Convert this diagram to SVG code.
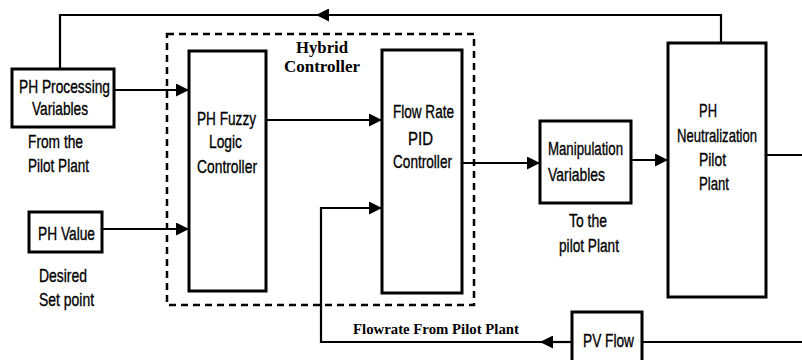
<svg xmlns="http://www.w3.org/2000/svg" width="802" height="360" viewBox="0 0 802 360">
<defs>
<style>
.box{fill:#fff;stroke:#000;stroke-width:3}
.ln{fill:none;stroke:#000;stroke-width:2.2}
.dash{fill:none;stroke:#000;stroke-width:2.5;stroke-dasharray:7 5}
.t{font-family:"Liberation Sans",Arial,sans-serif;font-size:19px;fill:#000;stroke:#000;stroke-width:0.35}
.b{font-family:"Liberation Serif","Times New Roman",serif;font-weight:bold;fill:#000}
</style>
<marker id="ah" markerUnits="userSpaceOnUse" markerWidth="13" markerHeight="13" viewBox="0 0 13 13" refX="13" refY="6.5" orient="auto">
<path d="M0,0 L13,6.5 L0,13 Z" fill="#000"/>
</marker>
</defs>
<rect width="802" height="360" fill="#fff"/>

<g id="connectors">
<path class="ln" d="M721,43 V15 H60 V69"/>
<path class="ln" d="M721,15 H316" marker-end="url(#ah)"/>
<path class="ln" d="M114,90 H189" marker-end="url(#ah)"/>
<path class="ln" d="M102,229 H189" marker-end="url(#ah)"/>
<path class="ln" d="M266,120 H382" marker-end="url(#ah)"/>
<path class="ln" d="M462,163 H540" marker-end="url(#ah)"/>
<path class="ln" d="M631,160 H668" marker-end="url(#ah)"/>
<path class="ln" d="M766,155 H802"/>
<path class="ln" d="M802,342 H642"/>
<path class="ln" d="M572,342 H540" marker-end="url(#ah)"/>
<path class="ln" d="M542,342 H321 V208 H382" marker-end="url(#ah)"/>
</g>

<g id="hybrid">
<rect class="dash" x="167" y="34" width="307" height="271"/>
<text class="b" font-size="16" x="322" y="53" text-anchor="middle" textLength="52" lengthAdjust="spacingAndGlyphs">Hybrid</text>
<text class="b" font-size="16" x="322" y="72" text-anchor="middle" textLength="76" lengthAdjust="spacingAndGlyphs">Controller</text>
</g>

<g id="ph-processing">
<rect class="box" x="12" y="69" width="102" height="58"/>
<text class="t" x="64.5" y="93" text-anchor="middle" textLength="91" lengthAdjust="spacingAndGlyphs">PH Processing</text>
<text class="t" x="60" y="115" text-anchor="middle" textLength="56" lengthAdjust="spacingAndGlyphs">Variables</text>
<text class="t" x="28" y="148" textLength="55" lengthAdjust="spacingAndGlyphs">From the</text>
<text class="t" x="28" y="172" textLength="61" lengthAdjust="spacingAndGlyphs">Pilot Plant</text>
</g>

<g id="ph-value">
<rect class="box" x="29" y="212" width="73" height="40"/>
<text class="t" x="66.5" y="240" text-anchor="middle" textLength="57" lengthAdjust="spacingAndGlyphs">PH Value</text>
<text class="t" x="39" y="282" textLength="48" lengthAdjust="spacingAndGlyphs">Desired</text>
<text class="t" x="39" y="306" textLength="55" lengthAdjust="spacingAndGlyphs">Set point</text>
</g>

<g id="fuzzy">
<rect class="box" x="189" y="51" width="77" height="240"/>
<text class="t" x="226.5" y="125" text-anchor="middle" textLength="59" lengthAdjust="spacingAndGlyphs">PH Fuzzy</text>
<text class="t" x="225.5" y="148" text-anchor="middle" textLength="33" lengthAdjust="spacingAndGlyphs">Logic</text>
<text class="t" x="227" y="173" text-anchor="middle" textLength="60" lengthAdjust="spacingAndGlyphs">Controller</text>
</g>

<g id="pid">
<rect class="box" x="382" y="50" width="80" height="243"/>
<text class="t" x="423.5" y="118" text-anchor="middle" textLength="61" lengthAdjust="spacingAndGlyphs">Flow Rate</text>
<text class="t" x="420.5" y="145" text-anchor="middle" textLength="25" lengthAdjust="spacingAndGlyphs">PID</text>
<text class="t" x="422.5" y="168" text-anchor="middle" textLength="59" lengthAdjust="spacingAndGlyphs">Controller</text>
</g>

<g id="manipulation">
<rect class="box" x="540" y="121" width="91" height="82"/>
<text class="t" x="548" y="155" textLength="75" lengthAdjust="spacingAndGlyphs">Manipulation</text>
<text class="t" x="548" y="181" textLength="57" lengthAdjust="spacingAndGlyphs">Variables</text>
<text class="t" x="588" y="227" text-anchor="middle" textLength="38" lengthAdjust="spacingAndGlyphs">To the</text>
<text class="t" x="589" y="252" text-anchor="middle" textLength="60" lengthAdjust="spacingAndGlyphs">pilot Plant</text>
</g>

<g id="neutralization">
<rect class="box" x="668" y="43" width="98" height="254"/>
<text class="t" x="699" y="117" textLength="18" lengthAdjust="spacingAndGlyphs">PH</text>
<text class="t" x="677" y="142" textLength="80" lengthAdjust="spacingAndGlyphs">Neutralization</text>
<text class="t" x="699" y="166" textLength="27" lengthAdjust="spacingAndGlyphs">Pilot</text>
<text class="t" x="699" y="190" textLength="30" lengthAdjust="spacingAndGlyphs">Plant</text>
</g>

<g id="pv-flow">
<rect class="box" x="572" y="312" width="70" height="60"/>
<text class="t" x="583" y="347" textLength="51" lengthAdjust="spacingAndGlyphs">PV Flow</text>
</g>

<g id="flowrate-label">
<text class="b" font-size="14" x="353" y="334" textLength="166" lengthAdjust="spacingAndGlyphs">Flowrate From Pilot Plant</text>
</g>
</svg>
